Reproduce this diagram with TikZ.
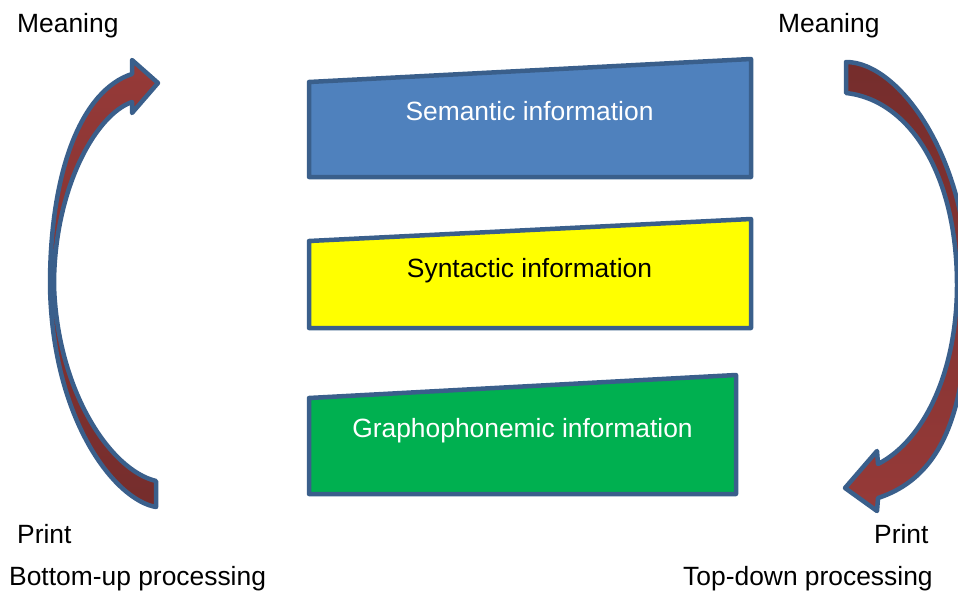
\documentclass[tikz,border=0pt]{standalone}
\usepackage{fontspec}
\setmainfont{Liberation Sans}
\definecolor{semblue}{HTML}{4F81BD}
\definecolor{edgeblue}{HTML}{3A5F8B}
\definecolor{synyellow}{HTML}{FFFF00}
\definecolor{graphgreen}{HTML}{00B050}
\definecolor{arrowlight}{HTML}{963A38}
\definecolor{arrowdark}{HTML}{752D2C}

\tikzstyle{infobox}=[draw=edgeblue,line width=4.5pt,line join=round]
\tikzstyle{curvearrow}=[draw=edgeblue,line width=4.5pt,line join=round]
\tikzstyle{infotext}=[anchor=base]
\tikzstyle{sidetext}=[anchor=base west]

\begin{document}
\begin{tikzpicture}[x=1pt,y=-1pt,inner sep=0pt,font=\fontsize{26.4}{30}\selectfont]
%\draw[help lines,step=50] (0,0) grid (958,597);
\useasboundingbox (0,0) rectangle (958,597);
\clip (0,0) rectangle (958,597);
% the three levels
\path[infobox,fill=semblue]    (309,82)  -- (751,59)  -- (751,177) -- (309,177) -- cycle;
\path[infobox,fill=synyellow]  (309,241) -- (751,219) -- (751,328) -- (309,328) -- cycle;
\path[infobox,fill=graphgreen] (309,398) -- (736,375) -- (736,494) -- (309,494) -- cycle;
\node[infotext,white] (sem)   at (529.5,120) {Semantic information};
\node[infotext]       (syn)   at (529.5,277) {Syntactic information};
\node[infotext,white] (graph) at (522.5,437) {Graphophonemic information};
% bottom-up arrow
\path[curvearrow,top color=arrowlight,bottom color=arrowdark]
  (156,481) -- (156,507)
  .. controls (115,500) and (52,420) .. (50,285)
  .. controls (50,170) and (82,90) .. (132,74)
  -- (132,60) -- (158,83) -- (132,113) -- (132,102)
  .. controls (95,115) and (54,190) .. (54,285)
  .. controls (57,390) and (110,470) .. (156,481) -- cycle;
% top-down arrow
\path[curvearrow,top color=arrowdark,bottom color=arrowlight]
  (846,93) -- (846,62)
  .. controls (900,62) and (968,160) .. (968,285)
  .. controls (968,400) and (948,475) .. (878,498)
  -- (877,511) -- (845,488) -- (877,451) -- (878,464)
  .. controls (925,440) and (957,370) .. (957,285)
  .. controls (957,175) and (910,100) .. (846,93) -- cycle;
% labels
\node[sidetext] (meanL)    at (17,32)   {Meaning};
\node[sidetext] (meanR)    at (778,32)  {Meaning};
\node[sidetext] (printL)   at (17,543)  {Print};
\node[sidetext] (printR)   at (874,543) {Print};
\node[sidetext] (bottomup) at (9,585)   {Bottom-up processing};
\node[sidetext] (topdown)  at (683,585) {Top-down processing};
\end{tikzpicture}
\end{document}
